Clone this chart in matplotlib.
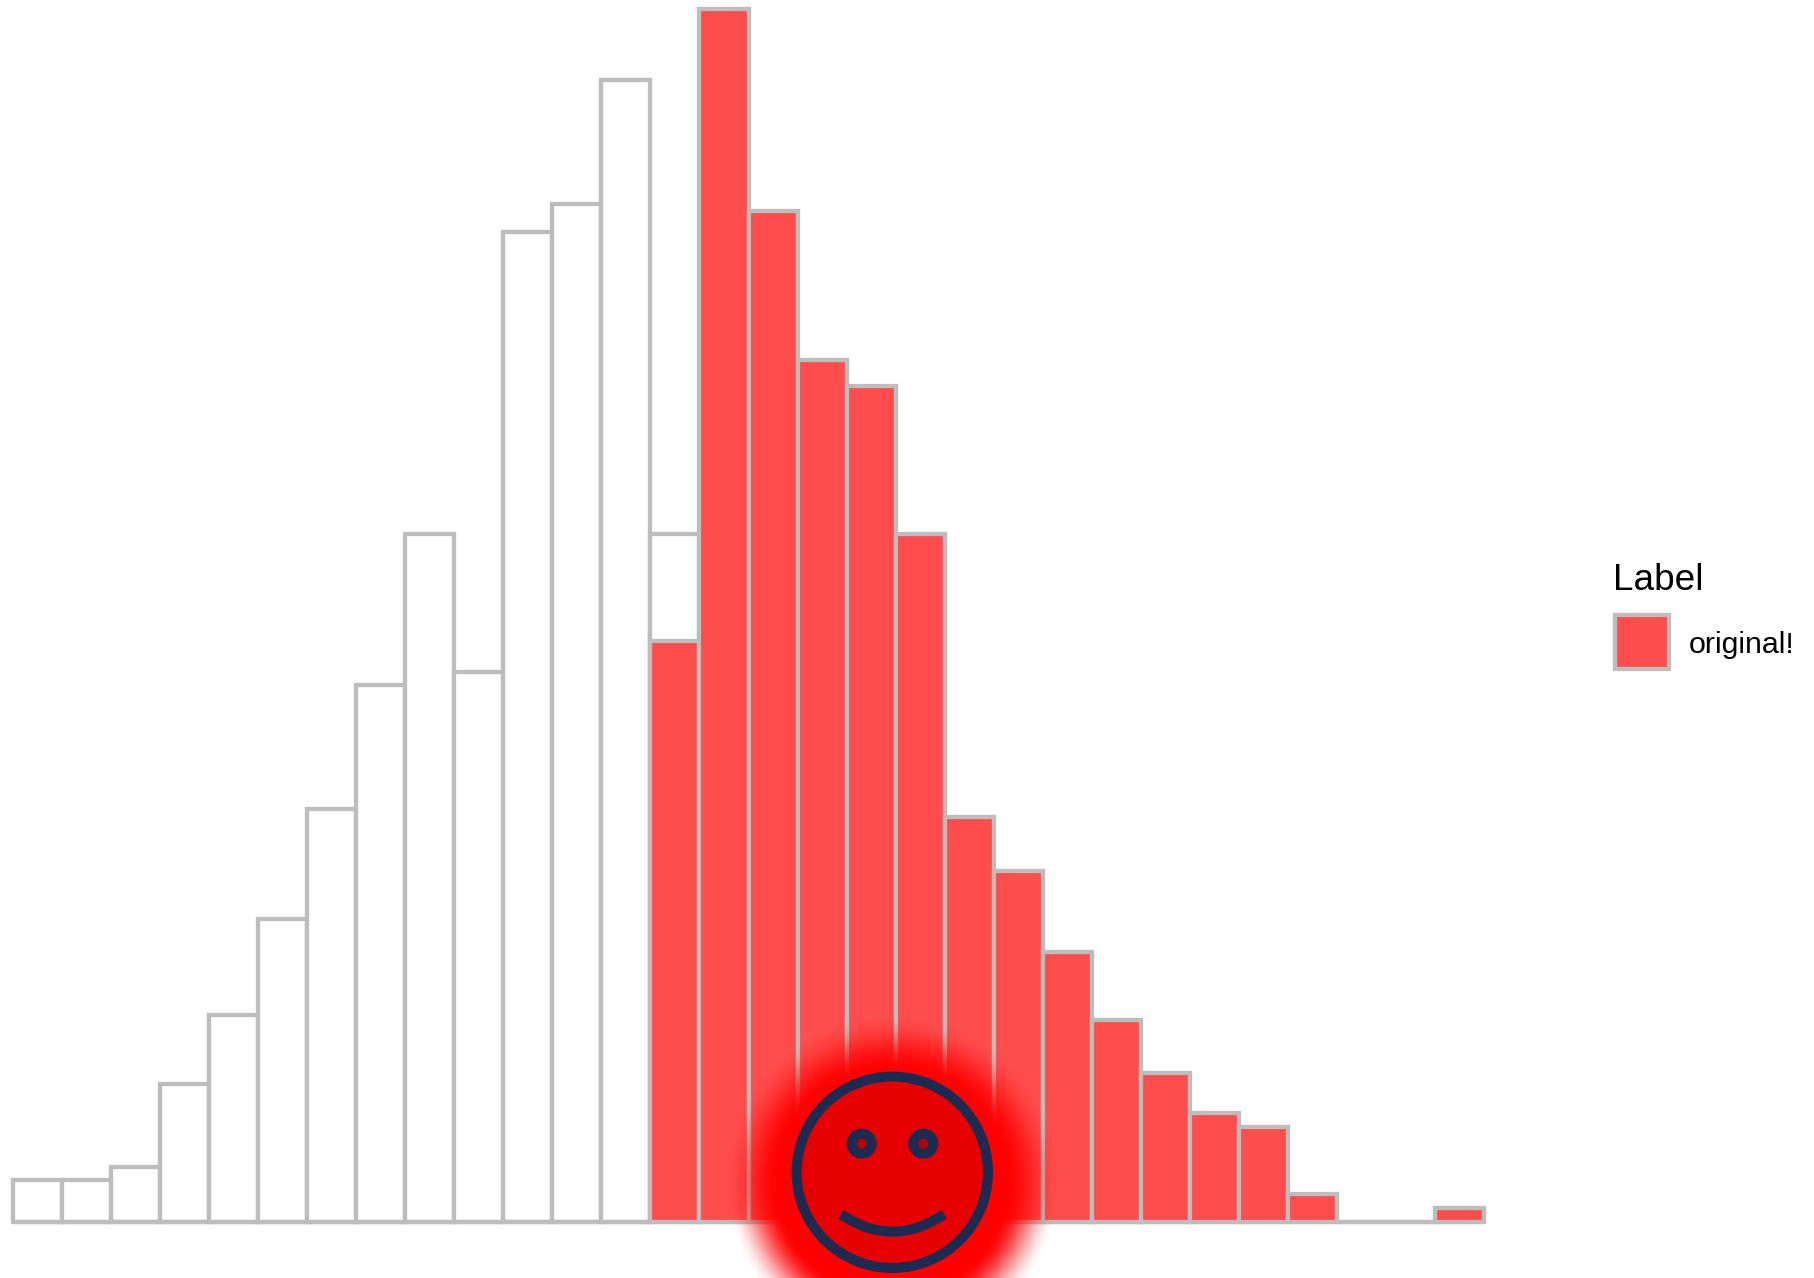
import numpy as np
import matplotlib
matplotlib.use("Agg")
import matplotlib.pyplot as plt
from matplotlib.patches import Circle, PathPatch, Rectangle
from matplotlib.path import Path

plt.rcParams["font.family"] = ["Liberation Sans", "DejaVu Sans"]

WIDTH = 1815
HEIGHT = 1278

GREY = "#bdbdbd"
RED = (1.0, 0.0, 0.0, 0.7)
NAVY = "#1a2c52"

# counts per bin, 30 bins
all_counts = [3, 3, 4, 10, 15, 22, 30, 39, 50, 40, 72, 74, 83, 50, 0,
              0, 0, 0, 0, 0, 0, 0, 0, 0, 0, 0, 0, 0, 0, 0]
selected_counts = [0, 0, 0, 0, 0, 0, 0, 0, 0, 0, 0, 0, 0, 42.2, 88.2,
                   73.5, 62.7, 60.8, 50, 29.4, 25.5, 19.6, 14.7, 10.8, 7.9, 6.9, 2, 0, 0, 1]
legend_title = "Label"
legend_label = "original!"

bins = np.arange(len(all_counts))

PLOT_LEFT = 13.2
PLOT_RIGHT = 1483.8
PLOT_TOP = 9.0
PLOT_BOTTOM = 1221.6

FACE_X = 892.3
FACE_Y = 1172.3
GLOW_Y = 1183.0


def draw_glow(over):
    # red blurred halo behind the face, sits a bit lower than the face
    yy, xx = np.mgrid[950:HEIGHT, 650:1140]
    r = np.hypot(xx + 0.5 - FACE_X, yy + 0.5 - GLOW_Y)
    t = np.clip((168 - r) / (168 - 112), 0, 1)
    rgba = np.zeros(r.shape + (4,))
    rgba[..., 0] = 1.0
    rgba[..., 3] = t * t * (3 - 2 * t)
    over.imshow(rgba, extent=(650, 1140, HEIGHT, 950), interpolation="bilinear",
                aspect="auto", zorder=1)


def draw_face(over):
    over.add_patch(Circle((FACE_X, FACE_Y), 95.7, facecolor="#e60000", edgecolor=NAVY,
                          linewidth=7.2, zorder=2))
    for eye_x in (861.7, 923.3):
        over.add_patch(Circle((eye_x, 1143.7), 10, facecolor="#b80000", edgecolor=NAVY,
                              linewidth=7.2, zorder=3))
    smile = Path([(841, 1214.3), (FACE_X, 1249.1), (944, 1214.3)],
                 [Path.MOVETO, Path.CURVE3, Path.CURVE3])
    over.add_patch(PathPatch(smile, facecolor="none", edgecolor=NAVY, linewidth=7.2,
                             capstyle="butt", zorder=3))


def draw_legend(over):
    over.text(1612.8, 590, legend_title, fontsize=26.6, color="black", ha="left", va="baseline")
    over.add_patch(Rectangle((1614.6, 615), 54.3, 53.7, facecolor=RED, edgecolor=GREY,
                             linewidth=3.1))
    over.text(1688.5, 652.7, legend_label, fontsize=21.9, color="black", ha="left", va="baseline")


def main():
    fig = plt.figure(figsize=(WIDTH / 100, HEIGHT / 100), dpi=100)

    ax = fig.add_axes([PLOT_LEFT / WIDTH, 1 - PLOT_BOTTOM / HEIGHT,
                       (PLOT_RIGHT - PLOT_LEFT) / WIDTH, (PLOT_BOTTOM - PLOT_TOP) / HEIGHT])
    ax.bar(bins, all_counts, width=1, align="edge", color="white", edgecolor=GREY,
           linewidth=3.1, clip_on=False)
    ax.bar(bins, selected_counts, width=1, align="edge", color=RED, edgecolor=GREY,
           linewidth=3.1, clip_on=False)
    ax.set_xlim(0, len(bins))
    ax.set_ylim(0, max(selected_counts))
    ax.set_axis_off()

    # overlay in pixel coordinates for the face and the legend
    over = fig.add_axes([0, 0, 1, 1])
    over.patch.set_alpha(0)
    draw_glow(over)
    draw_face(over)
    draw_legend(over)
    over.set_xlim(0, WIDTH)
    over.set_ylim(HEIGHT, 0)
    over.set_axis_off()

    fig.savefig("out.png", dpi=100)


if __name__ == "__main__":
    main()
